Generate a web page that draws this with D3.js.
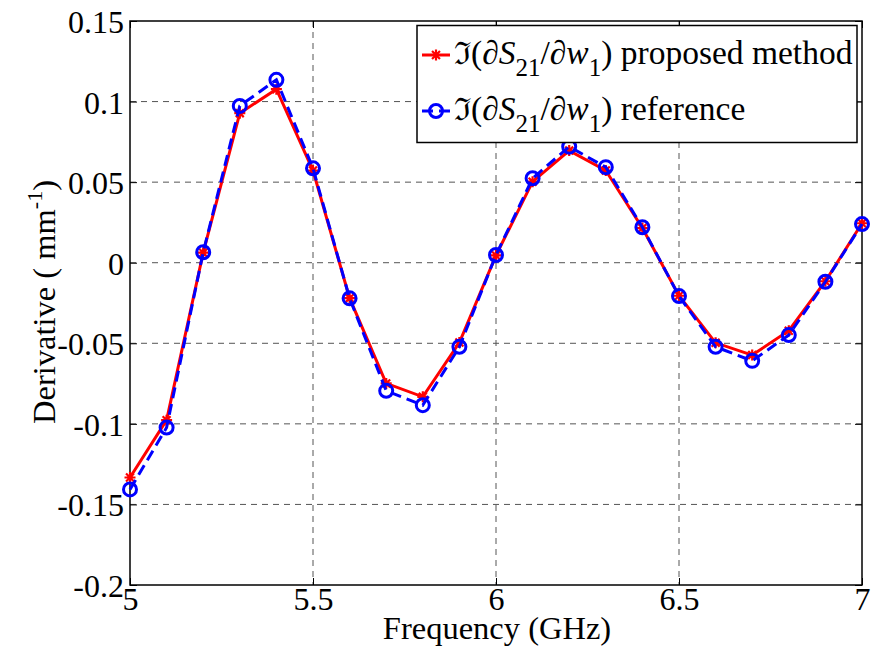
<!DOCTYPE html>
<html>
<head>
<meta charset="utf-8">
<script src="https://cdn.jsdelivr.net/npm/d3@7"></script>
<style>
  html, body { margin: 0; padding: 0; background: #fff; }
  svg { display: block; }
</style>
</head>
<body>
<svg id="chart" width="871" height="658" font-family="Liberation Serif"></svg>
<script>
// Frequency sweep (GHz)
const frequency = [5.0, 5.1, 5.2, 5.3, 5.4, 5.5, 5.6, 5.7, 5.8, 5.9, 6.0,
                   6.1, 6.2, 6.3, 6.4, 6.5, 6.6, 6.7, 6.8, 6.9, 7.0];
// Im(dS21/dw1) from the proposed method (mm^-1)
const proposed = [-0.1333, -0.0977, 0.0062, 0.0928, 0.1077, 0.0572, -0.0220, -0.0749, -0.0832, -0.0495, 0.0045,
                  0.0503, 0.0696, 0.0572, 0.0215, -0.0205, -0.0497, -0.0573, -0.0422, -0.0115, 0.0245];
// Im(dS21/dw1) reference values (mm^-1)
const reference = [-0.1407, -0.1023, 0.0065, 0.0973, 0.1135, 0.0586, -0.0221, -0.0795, -0.0884, -0.0522, 0.0048,
                   0.0524, 0.0720, 0.0593, 0.0220, -0.0207, -0.0522, -0.0609, -0.0449, -0.0118, 0.0240];
const xTicks = [5, 5.5, 6, 6.5, 7];
const yTicks = [0.15, 0.1, 0.05, 0, -0.05, -0.1, -0.15, -0.2];

const svg = d3.select("#chart");
const plot = { left: 130, right: 862, top: 21, bottom: 585 };
const serif = "Liberation Serif";

const x = d3.scaleLinear().domain([5, 7]).range([plot.left, plot.right]);
const y = d3.scaleLinear().domain([-0.2, 0.15]).range([plot.bottom, plot.top]);

const tickFmt = v => (v === 0 ? "0" : String(+v.toFixed(2)));

// Dashed grid
const grid = svg.append("g").attr("stroke", "#555").attr("stroke-width", 1)
  .attr("stroke-dasharray", "6,5");
grid.selectAll("line.gx").data(xTicks.slice(1, -1)).join("line")
  .attr("x1", d => x(d)).attr("x2", d => x(d))
  .attr("y1", plot.top).attr("y2", plot.bottom);
grid.selectAll("line.gy").data(yTicks.slice(1, -1)).join("line")
  .attr("x1", plot.left).attr("x2", plot.right)
  .attr("y1", d => y(d)).attr("y2", d => y(d));

// Axes with inward ticks
const axisFont = 32;
const gx = svg.append("g").attr("transform", `translate(0,${plot.bottom})`)
  .call(d3.axisBottom(x).tickValues(xTicks).tickSizeInner(-7).tickSizeOuter(0)
    .tickFormat(tickFmt).tickPadding(2));
const gy = svg.append("g").attr("transform", `translate(${plot.left},0)`)
  .call(d3.axisLeft(y).tickValues(yTicks).tickSizeInner(-7).tickSizeOuter(0)
    .tickFormat(tickFmt).tickPadding(6));
const gxTop = svg.append("g").attr("transform", `translate(0,${plot.top})`)
  .call(d3.axisTop(x).tickValues(xTicks).tickSizeInner(-7).tickSizeOuter(0).tickFormat(""));
const gyRight = svg.append("g").attr("transform", `translate(${plot.right},0)`)
  .call(d3.axisRight(y).tickValues(yTicks).tickSizeInner(-7).tickSizeOuter(0).tickFormat(""));
[gx, gy, gxTop, gyRight].forEach(g => {
  g.attr("font-family", serif);
  g.select(".domain").remove();
  g.selectAll("line").attr("stroke", "#000").attr("stroke-width", 1);
  g.selectAll("text").attr("font-size", axisFont).attr("fill", "#000");
});
gx.selectAll("text").attr("dy", "0.71em");
gy.selectAll("text").attr("dy", "0.36em");

// Plot frame
svg.append("rect")
  .attr("x", plot.left).attr("y", plot.top)
  .attr("width", plot.right - plot.left).attr("height", plot.bottom - plot.top)
  .attr("fill", "none").attr("stroke", "#000").attr("stroke-width", 1.5);

// Axis titles
svg.append("text")
  .attr("x", 497).attr("y", 639)
  .attr("text-anchor", "middle").attr("font-size", 32.5).attr("font-family", serif)
  .text("Frequency (GHz)");

const yTitle = svg.append("text")
  .attr("transform", "translate(55,302) rotate(-90)")
  .attr("text-anchor", "middle").attr("font-size", 32.5).attr("font-family", serif);
yTitle.append("tspan").text("Derivative ( mm");
yTitle.append("tspan").attr("font-size", 22).attr("dy", -13).text("-1");
yTitle.append("tspan").attr("dy", 13).text(")");

// Series
const series = [
  { values: proposed, color: "#ff0000", dash: null, marker: "star" },
  { values: reference, color: "#0000ff", dash: "11,6", marker: "circle" }
];

const line = d3.line().x(d => x(d[0])).y(d => y(d[1]));

function drawMarker(g, cx, cy, s) {
  if (s.marker === "circle") {
    g.append("circle").attr("cx", cx).attr("cy", cy).attr("r", 6.5)
      .attr("fill", "none").attr("stroke", s.color).attr("stroke-width", 3);
  } else {
    const r = 5.5, d = r * 0.72;
    const p = d3.path();
    p.moveTo(cx - r, cy); p.lineTo(cx + r, cy);
    p.moveTo(cx, cy - r); p.lineTo(cx, cy + r);
    p.moveTo(cx - d, cy - d); p.lineTo(cx + d, cy + d);
    p.moveTo(cx - d, cy + d); p.lineTo(cx + d, cy - d);
    g.append("path").attr("d", p.toString()).attr("stroke", s.color)
      .attr("stroke-width", 2.2).attr("fill", "none");
  }
}

series.forEach(s => {
  const pts = frequency.map((f, i) => [f, s.values[i]]);
  svg.append("path").datum(pts).attr("d", line)
    .attr("fill", "none").attr("stroke", s.color).attr("stroke-width", 3)
    .attr("stroke-dasharray", s.dash);
  const mg = svg.append("g");
  pts.forEach(p => drawMarker(mg, x(p[0]), y(p[1]), s));
});

// Legend
const legend = svg.append("g");
legend.append("rect").attr("x", 417).attr("y", 25.5).attr("width", 440).attr("height", 117)
  .attr("fill", "#fff").attr("stroke", "#000").attr("stroke-width", 1.5);

const legendRows = [
  { s: series[0], label: " proposed method", cy: 55 },
  { s: series[1], label: " reference", cy: 111 }
];
legendRows.forEach(r => {
  legend.append("line").attr("x1", 422).attr("x2", 450).attr("y1", r.cy).attr("y2", r.cy)
    .attr("stroke", r.s.color).attr("stroke-width", 3).attr("stroke-dasharray", r.s.dash);
  drawMarker(legend, 436, r.cy, r.s);
  const t = legend.append("text").attr("x", 454).attr("y", r.cy + 9)
    .attr("font-size", 33.5).attr("font-family", serif);
  t.append("tspan").attr("font-family", "DejaVu Serif").attr("font-size", 31).text("\u2111");
  t.append("tspan").text("(\u2202");
  t.append("tspan").attr("font-style", "italic").text("S");
  t.append("tspan").attr("font-size", 25).attr("dy", 12).text("21");
  t.append("tspan").attr("dy", -12).text("/\u2202");
  t.append("tspan").attr("font-style", "italic").text("w");
  t.append("tspan").attr("font-size", 25).attr("dy", 12).text("1");
  t.append("tspan").attr("dy", -12).text(")" + r.label);
});
</script>
</body>
</html>
